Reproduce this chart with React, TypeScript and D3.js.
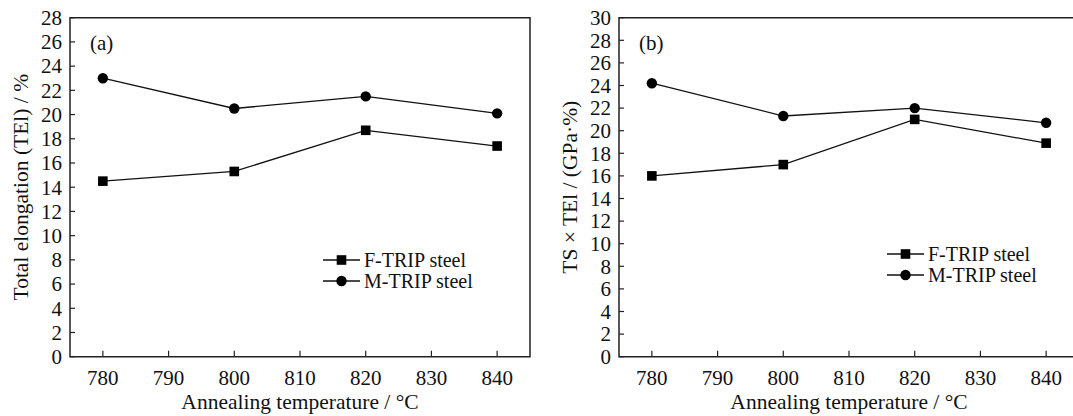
import React from "react";
import * as d3 from "d3";

// Annealing temperatures (°C)
const temperatures = [780, 800, 820, 840];
const xTicks = [780, 790, 800, 810, 820, 830, 840];

// (a) Total elongation, %
const elongationF = [14.5, 15.3, 18.7, 17.4];
const elongationM = [23.0, 20.5, 21.5, 20.1];
const elongationTicks = d3.range(0, 29, 2);

// (b) Product of strength and elongation, GPa·%
const productF = [16.0, 17.0, 21.0, 18.9];
const productM = [24.2, 21.3, 22.0, 20.7];
const productTicks = d3.range(0, 31, 2);

const seriesNames = ["F-TRIP steel", "M-TRIP steel"];

const FONT = "'Liberation Serif', 'Times New Roman', serif";

type PanelProps = {
  left: number;
  width: number;
  top: number;
  height: number;
  yMax: number;
  yTicks: number[];
  f: number[];
  m: number[];
  label: string;
  yTitle: string;
  legendX: number;
  legendY: number;
  legendGap: number;
};

function Panel(p: PanelProps) {
  const x = d3.scaleLinear().domain([775, 845]).range([p.left, p.left + p.width]);
  const y = d3.scaleLinear().domain([0, p.yMax]).range([p.top + p.height, p.top]);
  const line = d3
    .line<number>()
    .x((_, i) => x(temperatures[i]))
    .y((d) => y(d));
  const bottom = p.top + p.height;
  const right = p.left + p.width;
  const stroke = "#222";

  const Square = ({ cx, cy }: { cx: number; cy: number }) => (
    <rect x={cx - 4.8} y={cy - 4.8} width={9.6} height={9.6} fill="#000" />
  );
  const Dot = ({ cx, cy }: { cx: number; cy: number }) => (
    <circle cx={cx} cy={cy} r={5.2} fill="#000" />
  );

  return (
    <g fontFamily={FONT} fill="#111">
      {/* frame */}
      <path
        d={`M${p.left},${p.top}H${right}V${bottom}H${p.left}Z`}
        fill="none"
        stroke={stroke}
        strokeWidth={1.5}
      />
      {/* y ticks */}
      {p.yTicks.map((t) => (
        <g key={"y" + t}>
          <line x1={p.left} x2={p.left + 5} y1={y(t)} y2={y(t)} stroke={stroke} strokeWidth={1.2} />
          <text x={p.left - 8} y={y(t)} dy="0.35em" textAnchor="end" fontSize={21}>
            {t}
          </text>
        </g>
      ))}
      {/* x ticks */}
      {xTicks.map((t) => (
        <g key={"x" + t}>
          <line x1={x(t)} x2={x(t)} y1={bottom} y2={bottom - 6} stroke={stroke} strokeWidth={1.2} />
          <text x={x(t)} y={bottom + 28} textAnchor="middle" fontSize={21}>
            {t}
          </text>
        </g>
      ))}
      {/* axis titles */}
      <text x={p.left + p.width / 2} y={bottom + 52} textAnchor="middle" fontSize={21.5}>
        Annealing temperature / °C
      </text>
      <text
        transform={`translate(${p.left - 42},${p.top + p.height / 2}) rotate(-90)`}
        textAnchor="middle"
        fontSize={21.5}
      >
        {p.yTitle}
      </text>
      <text x={p.left + 20} y={p.top + 32} fontSize={21}>
        {p.label}
      </text>
      {/* series */}
      <path d={line(p.m) || ""} fill="none" stroke="#111" strokeWidth={1.3} />
      <path d={line(p.f) || ""} fill="none" stroke="#111" strokeWidth={1.3} />
      {p.m.map((v, i) => (
        <Dot key={"m" + i} cx={x(temperatures[i])} cy={y(v)} />
      ))}
      {p.f.map((v, i) => (
        <Square key={"f" + i} cx={x(temperatures[i])} cy={y(v)} />
      ))}
      {/* legend */}
      {seriesNames.map((name, i) => {
        const cy = p.legendY + i * p.legendGap;
        return (
          <g key={name}>
            <line x1={p.legendX} x2={p.legendX + 37} y1={cy} y2={cy} stroke="#111" strokeWidth={1.3} />
            {i === 0 ? <Square cx={p.legendX + 18.5} cy={cy} /> : <Dot cx={p.legendX + 18.5} cy={cy} />}
            <text x={p.legendX + 41} y={cy} dy="0.35em" fontSize={20}>
              {name}
            </text>
          </g>
        );
      })}
    </g>
  );
}

export default function App() {
  return (
    <svg
      width={1073}
      height={416}
      style={{ position: "absolute", left: 0, top: 0, background: "#fff" }}
    >
      <rect width={1073} height={416} fill="#fff" />
      <Panel
        left={70}
        width={460}
        top={17.7}
        height={339}
        yMax={28}
        yTicks={elongationTicks}
        f={elongationF}
        m={elongationM}
        label="(a)"
        yTitle="Total elongation (TEl) / %"
        legendX={323}
        legendY={260}
        legendGap={21}
      />
      <Panel
        left={619}
        width={460}
        top={17.7}
        height={339}
        yMax={30}
        yTicks={productTicks}
        f={productF}
        m={productM}
        label="(b)"
        yTitle="TS × TEl / (GPa·%)"
        legendX={887}
        legendY={254}
        legendGap={21}
      />
    </svg>
  );
}
